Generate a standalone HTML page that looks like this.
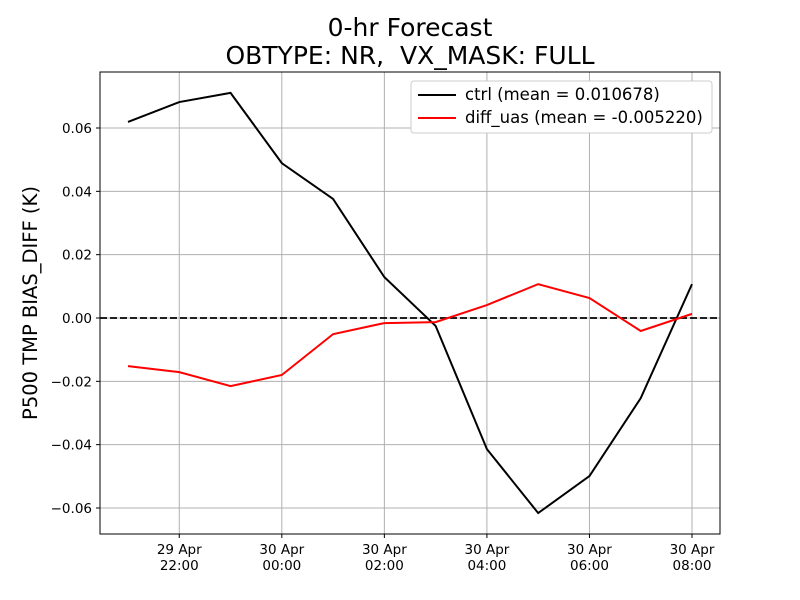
<!DOCTYPE html>
<html><head><meta charset="utf-8"><style>
body{margin:0;background:#fff;}
svg{display:block;font-family:"DejaVu Sans","Liberation Sans",sans-serif;}
</style></head><body>
<svg id="chart" width="800" height="600">
<text x="410" y="36" text-anchor="middle" font-size="25">0-hr Forecast</text>
<text x="410" y="64" text-anchor="middle" font-size="25">OBTYPE: NR,&#160; VX_MASK: FULL</text>
<g id="grid"></g>
<g id="plot"></g>
<rect x="100" y="72" width="620" height="462" fill="none" stroke="#000" stroke-width="1"/>
<g id="axes"></g>
<text transform="translate(37,303) rotate(-90)" text-anchor="middle" font-size="19.5">P500 TMP BIAS_DIFF (K)</text>
<g>
<rect x="411" y="81" width="301" height="52" fill="#fff" stroke="#ccc" rx="3"/>
<line x1="418" y1="95" x2="456" y2="95" stroke="#000" stroke-width="2"/>
<text x="465" y="100" font-size="16.5">ctrl (mean = 0.010678)</text>
<line x1="418" y1="118" x2="456" y2="118" stroke="#f00" stroke-width="2"/>
<text x="465" y="123" font-size="16.5">diff_uas (mean = -0.005220)</text>
</g>
</svg>
<script>
const hours = [21,22,23,24,25,26,27,28,29,30,31,32];
const ctrlValues = [0.0619,0.0682,0.0711,0.0489,0.0376,0.0129,-0.0025,-0.0414,-0.0616,-0.0499,-0.0253,0.0107];
const diffValues = [-0.0152,-0.0171,-0.0215,-0.0180,-0.0051,-0.0016,-0.0013,0.0041,0.0107,0.0063,-0.0041,0.0013];
const yTicks = [0.06,0.04,0.02,0.00,-0.02,-0.04,-0.06];
const yTickLabels = ["0.06","0.04","0.02","0.00","\u22120.02","\u22120.04","\u22120.06"];
const xTicks = [22,24,26,28,30,32];
const xTickLabels = [["29 Apr","22:00"],["30 Apr","00:00"],["30 Apr","02:00"],["30 Apr","04:00"],["30 Apr","06:00"],["30 Apr","08:00"]];

const NS="http://www.w3.org/2000/svg";
const X=h=>128+(h-21)*(692-128)/11;
const Y=v=>318-v*(190/0.06);
function mk(parent,tag,attrs){const e=document.createElementNS(NS,tag);for(const k in attrs)e.setAttribute(k,attrs[k]);document.getElementById(parent).appendChild(e);return e;}

yTicks.forEach((t,i)=>{
  const y=Y(t);
  let g=mk('grid','line',{x1:100,x2:720,y1:y,y2:y,stroke:'#b0b0b0','stroke-width':1});
  
  
  let tk=mk('axes','line',{x1:96,x2:100,y1:y,y2:y,stroke:'#000'});
  
  
  let tx=mk('axes','text',{x:92,y:y+5,'text-anchor':'end','font-size':13.5});
  tx.textContent=yTickLabels[i];
  
  
});
xTicks.forEach((t,i)=>{
  const x=X(t);
  let g=mk('grid','line',{x1:x,x2:x,y1:72,y2:534,stroke:'#b0b0b0','stroke-width':1});
  
  
  let tk=mk('axes','line',{x1:x,x2:x,y1:534,y2:538,stroke:'#000'});
  
  
  xTickLabels[i].forEach((s,j)=>{
    let tx=mk('axes','text',{x:x,y:554+j*16,'text-anchor':'middle','font-size':13.5});
    tx.textContent=s;
    
    
  });
});
let z=mk('plot','line',{x1:100,x2:720,y1:Y(0),y2:Y(0),stroke:'#000','stroke-width':1.8,'stroke-dasharray':'7,3'});


let p1=mk('plot','polyline',{points:hours.map((h,i)=>X(h)+','+Y(ctrlValues[i])).join(' '),fill:'none',stroke:'#000','stroke-width':2});


let p2=mk('plot','polyline',{points:hours.map((h,i)=>X(h)+','+Y(diffValues[i])).join(' '),fill:'none',stroke:'#f00','stroke-width':2});


</script>
</body></html>
